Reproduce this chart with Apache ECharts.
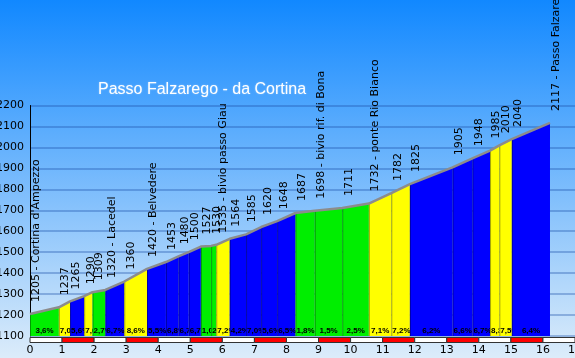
<!DOCTYPE html>
<html><head><meta charset="utf-8">
<script src="https://cdn.jsdelivr.net/npm/echarts@6/dist/echarts.min.js"></script>
<style>html,body{margin:0;padding:0;overflow:hidden;background:#fff}#c{width:575px;height:358px}</style>
</head><body><div id="c"></div>
<script>
// km at which each point starts, and its altitude (m)
const kmStart = [0, 0.9, 1.25, 1.69, 1.95, 2.35, 2.94, 3.65, 4.24, 4.63, 4.95, 5.33, 5.65, 5.81, 6.23, 6.74, 7.21, 7.71, 8.28, 8.88, 9.74, 10.57, 11.27, 11.85, 13.18, 13.8, 14.35, 14.64, 15.03, 16.22];
const elevation = [1205, 1237, 1265, 1290, 1309, 1320, 1360, 1420, 1453, 1480, 1500, 1527, 1530, 1535, 1564, 1585, 1620, 1648, 1687, 1698, 1711, 1732, 1782, 1825, 1905, 1948, 1985, 2010, 2040, 2117];
const placeNames = ["Cortina d'Ampezzo", '', '', '', '', 'Lacedel', '', 'Belvedere', '', '', '', '', '', 'bivio passo Giau', '', '', '', '', '', 'bivio rif. di Bona', '', 'ponte Rio Bianco', '', '', '', '', '', '', '', 'Passo Falzarego'];
// gradient of each segment
const gradeLabels = ['3,6', '7,0', '5,6', '7,6', '2,7', '6,7', '8,6', '5,5', '6,8', '6,7', '6,7', '1,0', '2,9', '7,2', '4,2', '7,0', '5,6', '6,5', '1,8', '1,5', '2,5', '7,1', '7,2', '6,2', '6,6', '6,7', '8,3', '7,5', '6,4'];
const gradeClass = ['g', 'y', 'b', 'y', 'g', 'b', 'y', 'b', 'b', 'b', 'b', 'g', 'g', 'y', 'b', 'b', 'b', 'b', 'g', 'g', 'g', 'y', 'y', 'b', 'b', 'b', 'y', 'y', 'b'];
const scaleKm = [0, 1, 2, 3, 4, 5, 6, 7, 8, 9, 10, 11, 12, 13, 14, 15, 16, 17];
const titleText = 'Passo Falzarego - da Cortina';

const classColors = { g: '#00ee00', y: '#ffff00', b: '#0000ff' };
const baseAlt = 1100;

const segData = gradeLabels.map((g, i) => [kmStart[i], elevation[i], kmStart[i + 1], elevation[i + 1], i]);
const profileData = kmStart.map((k, i) => [k, elevation[i]]);
const pointData = kmStart.map((k, i) => [k, elevation[i], i]);
const barData = scaleKm.slice(0, -1).map((k, i) => [k, scaleKm[i + 1], i]);

function renderSeg(params, api) {
  const i = api.value(4);
  const p0 = api.coord([api.value(0), api.value(1)]);
  const p1 = api.coord([api.value(2), api.value(3)]);
  const b0 = api.coord([api.value(0), baseAlt]);
  const b1 = api.coord([api.value(2), baseAlt]);
  const txt = gradeLabels[i] + '%';
  const w = txt.length * 4.5;
  const mid = (b0[0] + b1[0]) / 2;
  const tx = Math.max(b0[0] + 1, mid - w / 2);
  return {
    type: 'group', children: [
      { type: 'polygon', shape: { points: [b0, p0, p1, b1] }, style: { fill: classColors[gradeClass[i]] } },
      { type: 'line', shape: { x1: b0[0] + 0.5, y1: b0[1], x2: p0[0] + 0.5, y2: p0[1] }, style: { stroke: 'rgba(0,0,0,0.35)', lineWidth: 1 } },
      { type: 'text', x: tx, y: b0[1] - 5.5, style: { text: txt, fill: '#000', font: 'bold 8px "Liberation Sans"', align: 'left', verticalAlign: 'middle', textAlign: 'left', textVerticalAlign: 'middle' } }
    ]
  };
}

function renderPointLabel(params, api) {
  const i = api.value(2);
  const p = api.coord([api.value(0), api.value(1)]);
  const txt = elevation[i] + (placeNames[i] ? ' - ' + placeNames[i] : '');
  return {
    type: 'text', x: p[0] + 6.5, y: p[1] - 12, rotation: Math.PI / 2,
    style: { text: txt, fill: '#000', font: '11px "DejaVu Sans"', align: 'left', verticalAlign: 'middle', textAlign: 'left', textVerticalAlign: 'middle' }
  };
}

function renderBar(params, api) {
  const i = api.value(2);
  const a = api.coord([api.value(0), baseAlt]);
  const b = api.coord([api.value(1), baseAlt]);
  return {
    type: 'rect', shape: { x: a[0], y: a[1] + 1.5, width: b[0] - a[0], height: 5 },
    style: { fill: i % 2 ? '#ff0000' : '#ffffff', stroke: '#333', lineWidth: 1 }
  };
}

const chart = echarts.init(document.getElementById('c'), null, { renderer: 'canvas' });
chart.setOption({
  animation: false,
  backgroundColor: new echarts.graphic.LinearGradient(0, 0, 0, 1, [
    { offset: 0, color: '#1188ff' }, { offset: 1, color: '#dcecfa' }
  ]),
  title: {
    text: titleText, left: 98, top: 82, padding: 0,
    textStyle: { color: '#ffffff', fontFamily: 'Liberation Sans', fontSize: 16, fontWeight: 'normal', textShadowColor: 'rgba(255,255,255,0.4)', textShadowBlur: 2 }
  },
  grid: { left: 30, right: 0, top: 105.5, bottom: 22, containLabel: false, outerBoundsMode: 'none' },
  xAxis: {
    type: 'value', min: 0, max: 17, interval: 1,
    axisLine: { show: false }, axisTick: { show: false }, splitLine: { show: false },
    axisLabel: { color: '#000', fontFamily: 'DejaVu Sans', fontSize: 11, margin: 9, formatter: v => String(v) }
  },
  yAxis: {
    type: 'value', min: 1100, max: 2200, interval: 100,
    axisLine: { show: true, lineStyle: { color: '#000', width: 1 } }, axisTick: { show: false },
    splitLine: { show: true, lineStyle: { color: 'rgba(30,80,170,0.35)', width: 2 } },
    axisLabel: { color: '#000', fontFamily: 'DejaVu Sans', fontSize: 11, margin: 6, formatter: v => String(v) }
  },
  series: [
    { type: 'custom', renderItem: renderSeg, data: segData, z: 2, silent: true, clip: false },
    { type: 'line', data: profileData, symbol: 'none', z: 3, silent: true, lineStyle: { color: '#8c8c8c', width: 2.5 } },
    { type: 'custom', renderItem: renderPointLabel, data: pointData, z: 4, silent: true, clip: false },
    { type: 'custom', renderItem: renderBar, data: barData, z: 5, silent: true, clip: false }
  ]
});
</script></body></html>
